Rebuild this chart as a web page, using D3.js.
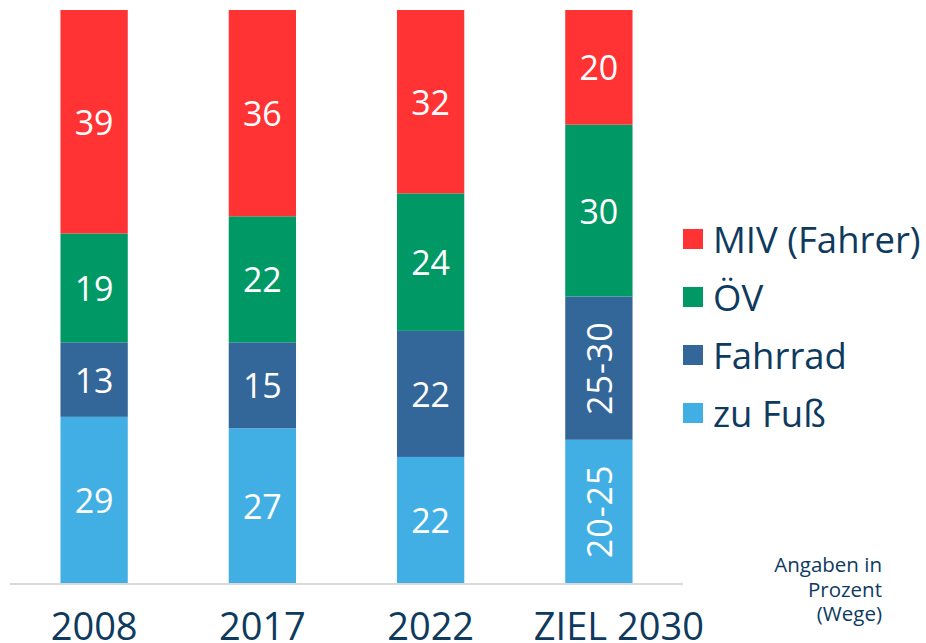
<!DOCTYPE html>
<html><head><meta charset="utf-8">
<script src="https://cdn.jsdelivr.net/npm/d3@7"></script>
<style>body{margin:0;background:#fff}svg{display:block}</style>
</head><body>
<svg id="c" width="926" height="643"></svg>
<script>
const categories = ["2008", "2017", "2022", "ZIEL 2030"];
const seriesNames = ["zu Fuß", "Fahrrad", "ÖV", "MIV (Fahrer)"];
const zuFuss = [29, 27, 22, 25];
const fahrrad = [13, 15, 22, 25];
const oev = [19, 22, 24, 30];
const miv = [39, 36, 32, 20];
const zuFussLabels = ["29", "27", "22", "20-25"];
const fahrradLabels = ["13", "15", "22", "25-30"];
const oevLabels = ["19", "22", "24", "30"];
const mivLabels = ["39", "36", "32", "20"];
const colors = ["#41AFE4", "#336699", "#009966", "#FF3333"];
const noteLines = ["Angaben in", "Prozent", "(Wege)"];

const font = "'Open Sans', sans-serif";
const textColor = "#0E3A5E";
const svg = d3.select("#c");

const values = [zuFuss, fahrrad, oev, miv];
const labels = [zuFussLabels, fahrradLabels, oevLabels, mivLabels];
const rows = categories.map((c, i) => {
  const r = {cat: c};
  seriesNames.forEach((s, j) => r[s] = values[j][i]);
  return r;
});
const stack = d3.stack().keys(seriesNames)(rows);

const x = d3.scaleBand().domain(categories).range([10, 683]).paddingInner(0.6).paddingOuter(0.3);
const y = d3.scaleLinear().domain([0, 100]).range([583, 10]);

const g = svg.append("g");
stack.forEach((layer, j) => {
  layer.forEach((d, i) => {
    const x0 = x(categories[i]), w = x.bandwidth();
    const y0 = y(d[1]), h = y(d[0]) - y(d[1]);
    g.append("rect").attr("x", x0).attr("y", y0).attr("width", w).attr("height", h).attr("fill", colors[j]);
    const lab = labels[j][i];
    const cx = x0 + w / 2, cy = y0 + h / 2;
    const t = g.append("text").attr("fill", "#fff").attr("font-family", font).attr("font-size", 34)
      .attr("text-anchor", "middle").attr("dominant-baseline", "central").text(lab);
    if (lab.includes("-")) t.attr("transform", `translate(${cx},${cy}) rotate(-90)`).style("letter-spacing", "1px");
    else t.attr("x", cx).attr("y", cy);
  });
});

// axis
const ax = svg.append("g").attr("transform", "translate(0,583)")
  .call(d3.axisBottom(x).tickSize(0).tickPadding(0));
ax.select(".domain").attr("stroke", "#d9d9d9").attr("stroke-width", 2).attr("d", "M10,1H683");
ax.selectAll("text").attr("font-family", font).attr("font-size", 38).attr("fill", textColor)
  .attr("dy", null).attr("y", 57)
  .attr("x", (d, i) => i === categories.length - 1 ? 20 : 0);

// legend
const leg = svg.append("g");
const legOrder = [3, 2, 1, 0];
legOrder.forEach((j, k) => {
  const cy = 239 + k * 58;
  leg.append("rect").attr("x", 683).attr("y", cy - 10).attr("width", 20).attr("height", 20).attr("fill", colors[j]);
  leg.append("text").attr("x", 713).attr("y", cy).attr("dominant-baseline", "central")
    .attr("font-family", font).attr("font-size", 36.5).attr("fill", textColor).text(seriesNames[j]);
});

// note
noteLines.forEach((l, i) => {
  svg.append("text").attr("x", 882).attr("y", 572 + i * 24.5).attr("text-anchor", "end")
    .attr("font-family", font).attr("font-size", 20.5).attr("fill", textColor).text(l);
});
</script>
</body></html>
